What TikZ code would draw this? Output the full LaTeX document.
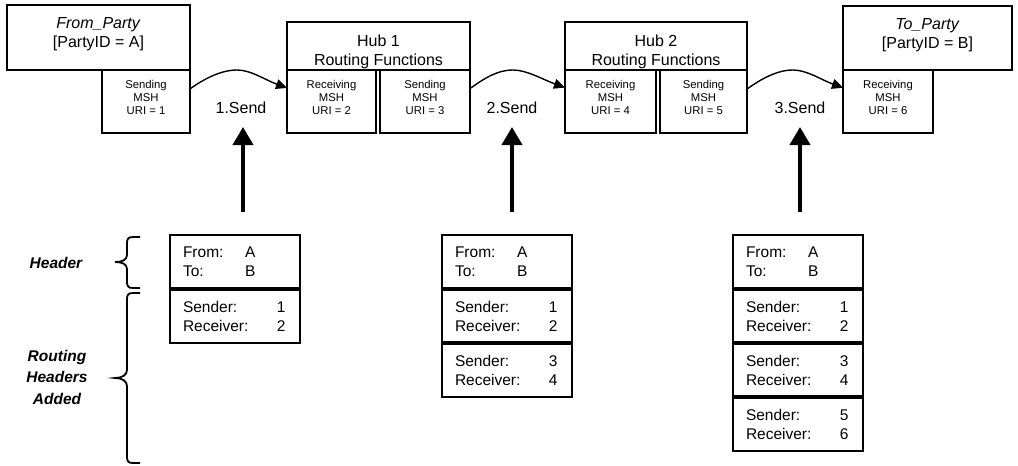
\documentclass[tikz,border=0pt]{standalone}
\usepackage{fontspec}
\setmainfont{Liberation Sans}
\usetikzlibrary{arrows.meta}
\begin{document}
\begin{tikzpicture}[x=1pt,y=-1pt,
  pbox/.style={draw, line width=1.8pt, fill=white, inner sep=0pt, outer sep=0pt, anchor=north west},
  ptext/.style={inner sep=0pt, align=center, font=\fontsize{16}{19}\selectfont},
  msh/.style={pbox, minimum height=63pt},
  mtext/.style={inner sep=0pt, align=center, font=\fontsize{11.3}{13}\selectfont},
  sect/.style={draw, line width=1.8pt, inner sep=0pt, outer sep=0pt, anchor=north west,
    minimum width=130pt, minimum height=54pt, text width=104pt, align=left,
    font=\fontsize{15.5}{19}\selectfont},
  divider/.style={line width=3.6pt},
  hop/.style={line width=1.4pt, -{Triangle[length=11pt,width=10pt]}},
  push/.style={line width=4pt, -{Triangle[length=18pt,width=20pt]}},
  sendlbl/.style={inner sep=0pt, font=\fontsize{16}{19}\selectfont},
  side/.style={inner sep=0pt, align=center, font=\fontsize{15.5}{21.5}\selectfont\bfseries\itshape},
  bracket/.style={line width=1.8pt}
]
\useasboundingbox (0,0) rectangle (1018,466);

% parties and hubs
\node[pbox, minimum width=183pt, minimum height=65pt] (fp) at (7,5) {};
\node[pbox, minimum width=183pt, minimum height=48pt] (hub1) at (287,22) {};
\node[pbox, minimum width=182pt, minimum height=48pt] (hub2) at (565,22) {};
\node[pbox, minimum width=169pt, minimum height=64pt] (tp) at (843,6) {};

\node[ptext, yshift=3.5pt] (fpt) at (fp.center) {\textit{From\_Party}\\{[PartyID = A]}};
\node[ptext, yshift=-6pt] (h1t) at (hub1.center) {Hub 1\\Routing Functions};
\node[ptext, yshift=-6pt] (h2t) at (hub2.center) {Hub 2\\Routing Functions};
\node[ptext, yshift=2.5pt] (tpt) at (tp.center) {\textit{To\_Party}\\{[PartyID = B]}};

% message service handlers (drawn over the hub labels' lower edge)
\node[msh, minimum width=88pt] (s1) at (102,70) {};
\node[msh, minimum width=89pt] (r2) at (287,70) {};
\node[msh, minimum width=90pt] (s3) at (380,70) {};
\node[msh, minimum width=91pt] (r4) at (565,70) {};
\node[msh, minimum width=87pt] (s5) at (660,70) {};
\node[msh, minimum width=90pt] (r6) at (843,70) {};

\node[mtext, yshift=4.5pt] (s1t) at (s1.center) {Sending\\MSH\\URI = 1};
\node[mtext, yshift=4.5pt] (r2t) at (r2.center) {Receiving\\MSH\\URI = 2};
\node[mtext, yshift=4.5pt] (s3t) at (s3.center) {Sending\\MSH\\URI = 3};
\node[mtext, yshift=4.5pt] (r4t) at (r4.center) {Receiving\\MSH\\URI = 4};
\node[mtext, yshift=4.5pt] (s5t) at (s5.center) {Sending\\MSH\\URI = 5};
\node[mtext, yshift=4.5pt] (r6t) at (r6.center) {Receiving\\MSH\\URI = 6};

% hops between handlers
\coordinate (c1) at (237,70);
\coordinate (c2) at (513,70);
\coordinate (c3) at (793,70);
\draw[hop] (s1.16) .. controls +(14,-10) and +(-16,0) .. (c1) .. controls +(14,0) and +(-22,-8) .. (r2.163);
\draw[hop] (s3.16) .. controls +(14,-10) and +(-16,0) .. (c2) .. controls +(14,0) and +(-22,-8) .. (r4.163);
\draw[hop] (s5.16) .. controls +(14,-10) and +(-16,0) .. (c3) .. controls +(14,0) and +(-22,-8) .. (r6.163);

\node[sendlbl] (l1) at (241,108) {1.Send};
\node[sendlbl] (l2) at (512,108) {2.Send};
\node[sendlbl] (l3) at (800,108) {3.Send};

% message snapshots pushed up to each hop
\coordinate (u1) at (243,212);
\coordinate (u2) at (512,212);
\coordinate (u3) at (800,212);
\draw[push] (u1) -- ++(0,-85);
\draw[push] (u2) -- ++(0,-85);
\draw[push] (u3) -- ++(0,-85);

% message 1
\node[sect] (a0) at (170,235) {\makebox[62pt][l]{From:}A\\\makebox[62pt][l]{To:}B};
\node[sect] (a1) at (a0.south west) {\makebox[94pt][l]{Sender:}1\\\makebox[94pt][l]{Receiver:}2};
\draw[divider] (a1.north west) -- (a1.north east);

% message 2
\node[sect] (b0) at (442,235) {\makebox[62pt][l]{From:}A\\\makebox[62pt][l]{To:}B};
\node[sect] (b1) at (b0.south west) {\makebox[94pt][l]{Sender:}1\\\makebox[94pt][l]{Receiver:}2};
\node[sect] (b2) at (b1.south west) {\makebox[94pt][l]{Sender:}3\\\makebox[94pt][l]{Receiver:}4};
\draw[divider] (b1.north west) -- (b1.north east);
\draw[divider] (b2.north west) -- (b2.north east);

% message 3
\node[sect] (d0) at (733,235) {\makebox[62pt][l]{From:}A\\\makebox[62pt][l]{To:}B};
\node[sect] (d1) at (d0.south west) {\makebox[94pt][l]{Sender:}1\\\makebox[94pt][l]{Receiver:}2};
\node[sect] (d2) at (d1.south west) {\makebox[94pt][l]{Sender:}3\\\makebox[94pt][l]{Receiver:}4};
\node[sect] (d3) at (d2.south west) {\makebox[94pt][l]{Sender:}5\\\makebox[94pt][l]{Receiver:}6};
\draw[divider] (d1.north west) -- (d1.north east);
\draw[divider] (d2.north west) -- (d2.north east);
\draw[divider] (d3.north west) -- (d3.north east);

% side labels with braces
\node[side] (hdr) at (56,263) {Header};
\node[side] (rha) at (57,377) {Routing\\Headers\\Added};
\draw[bracket] (140,237) -- (133,237) .. controls (128,237) and (127,239) .. (127,243)
  -- (127,255) .. controls (127,260) and (122,262) .. (115,262)
  .. controls (122,262) and (127,264) .. (127,269)
  -- (127,282) .. controls (127,286) and (128,288) .. (133,288) -- (140,288);
\draw[bracket] (140,293) -- (133,293) .. controls (128,293) and (127,295) .. (127,299)
  -- (127,370) .. controls (127,375) and (122,378) .. (115,378)
  .. controls (122,378) and (127,381) .. (127,386)
  -- (127,457) .. controls (127,461) and (128,463) .. (133,463) -- (140,463);
\end{tikzpicture}
\end{document}
